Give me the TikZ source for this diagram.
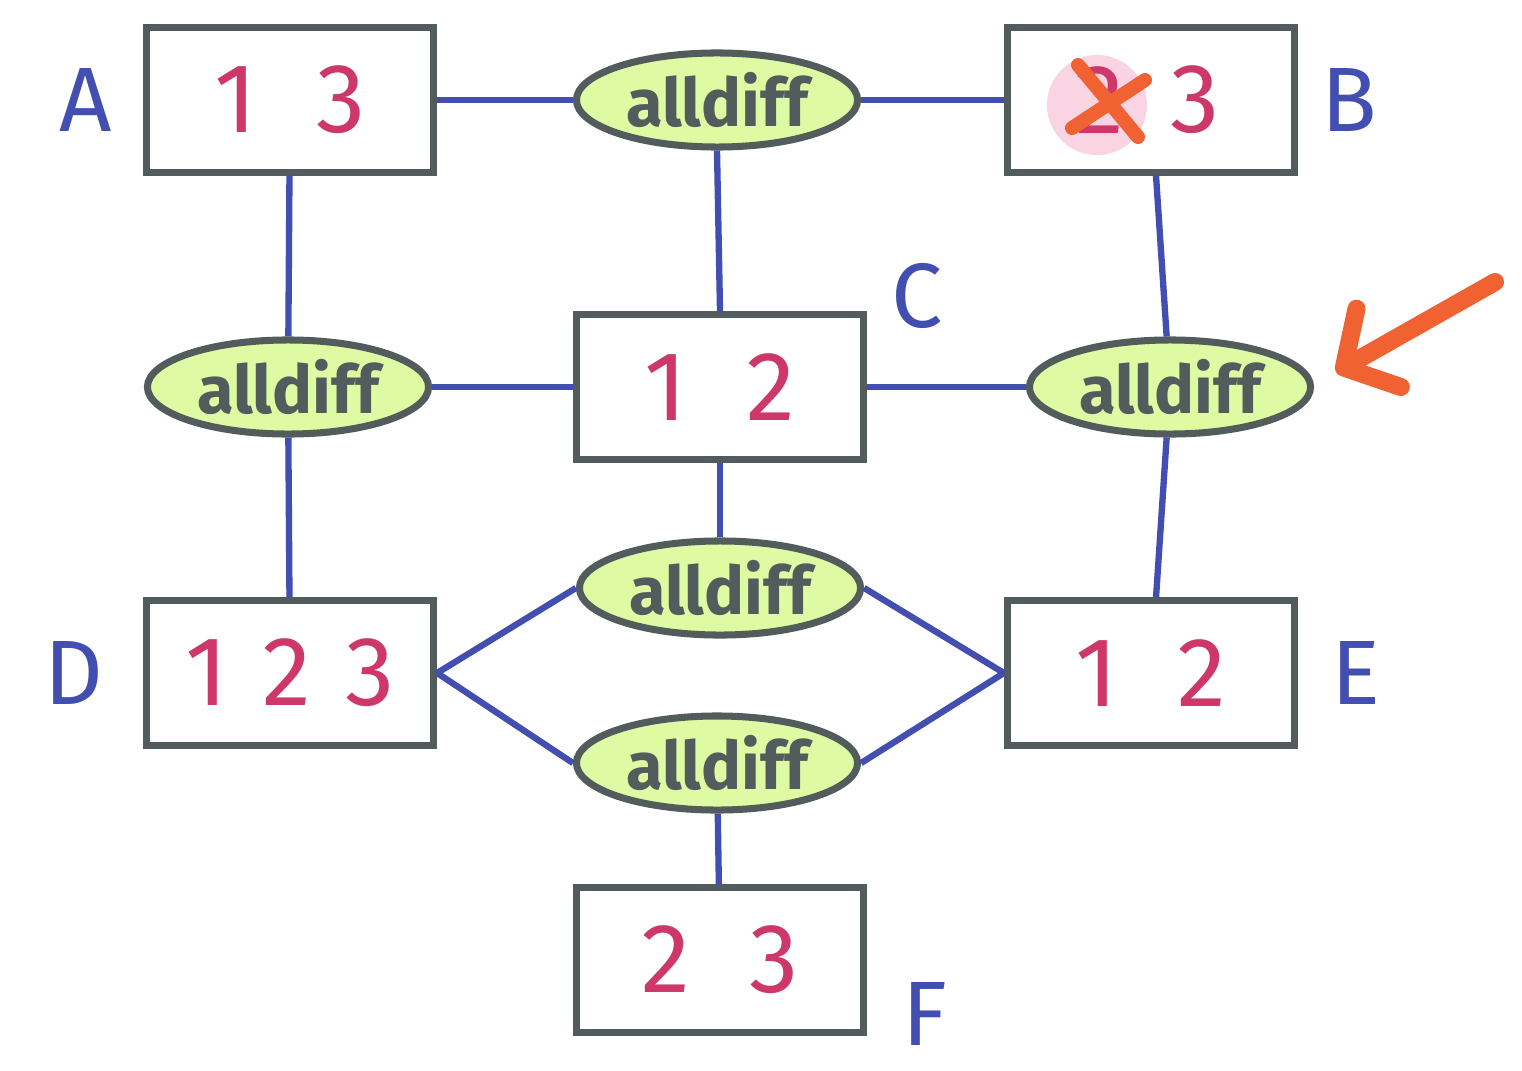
\documentclass[tikz,border=0pt]{standalone}
\usepackage{fontspec}
\setmainfont{Fira Sans}
\usetikzlibrary{arrows.meta,positioning,shapes.geometric,calc}
\definecolor{boxGray}{RGB}{82,92,92}
\definecolor{linkBlue}{RGB}{66,78,176}
\definecolor{valRed}{RGB}{206,56,104}
\definecolor{diffGreen}{RGB}{222,250,162}
\definecolor{markOrange}{RGB}{240,98,50}
\definecolor{crossPink}{RGB}{250,212,226}

\begin{document}
\begin{tikzpicture}[x=0.01cm, y=-0.01cm,
    var/.style={rectangle, draw=boxGray, line width=2pt, fill=white,
                minimum width=2.87cm, minimum height=1.44cm, inner sep=0pt,
                font=\fontsize{28}{30}\selectfont, text=valRed},
    val/.style={font=\fontsize{28}{30}\selectfont, text=valRed, inner sep=0pt},
    cons/.style={ellipse, draw=boxGray, line width=2pt, fill=diffGreen,
                 minimum width=2.81cm, minimum height=0.94cm, inner sep=0pt,
                 font=\fontsize{19}{21}\selectfont\bfseries, text=boxGray},
    tag/.style={font=\fontsize{26}{28}\selectfont, text=linkBlue, inner sep=0pt},
    link/.style={draw=linkBlue, line width=1.8pt},
    strike/.style={draw=markOrange, line width=1.4mm, line cap=round},
    pointer/.style={-{Straight Barb[length=4mm,width=9mm,round]}, draw=markOrange,
                    line width=1.8mm, line cap=round}
  ]
  \useasboundingbox (0,0) rectangle (1522,1070);

  % variables
  \node[var] (a) at ( 290, 100) {1\hspace{0.6em}3};
  \node[var] (b) at (1151, 100) {};
  \node[var] (c) at ( 720, 387) {1\hspace{0.6em}2};
  \node[var] (d) at ( 290, 673) {1\hspace{0.35em}2\hspace{0.35em}3};
  \node[var] (e) at (1151, 673) {1\hspace{0.6em}2};
  \node[var] (f) at ( 720, 960) {2\hspace{0.6em}3};

  % constraints
  \node[cons] (tall) at ( 717, 100) {alldiff};
  \node[cons] (lall) at ( 288, 387) {alldiff};
  \node[cons] (rall) at (1170, 387) {alldiff};
  \node[cons] (mall) at ( 720, 588) {alldiff};
  \node[cons] (ball) at ( 717, 763) {alldiff};

  % names
  \node[tag, left=0.3cm of a]   (na) {A};
  \node[tag, right=0.23cm of b] (nb) {B};
  \node[tag] (nc) at ($(c.north east)+(50,-15)$) {C};
  \node[tag, left=0.39cm of d]  (nd) {D};
  \node[tag, right=0.33cm of e] (ne) {E};
  \node[tag] (nf) at ($(f.south east)+(58,-22)$) {F};

  % edges
  \draw[link] (a.east) -- (tall.west);
  \draw[link] (tall.east) -- (b.west);
  \draw[link] (tall.south) -- (c.north);
  \draw[link] (a) -- (lall);
  \draw[link] (lall) -- (d);
  \draw[link] (lall.east) -- (c.west);
  \draw[link] (c.east) -- (rall.west);
  \draw[link] (b) -- (rall);
  \draw[link] (rall) -- (e);
  \draw[link] (c.south) -- (mall.north);
  \draw[link] (d.east) -- (mall.west);
  \draw[link] (d.east) -- (ball.west);
  \draw[link] (e.west) -- (mall.east);
  \draw[link] (e.west) -- (ball.east);
  \draw[link] (ball) -- (f);

  % domain of B, with 2 removed
  \fill[crossPink] (1097,105) circle (0.5cm);
  \node[val] (b2) at (1100,100) {2};
  \node[val] (b3) at (1195,100) {3};
  \draw[strike] ($(b2)+(-22,-35)$) -- ($(b2)+(38,37)$);
  \draw[strike] ($(b2)+(-28,28)$) -- ($(b2)+(45,-20)$);

  % propagation mark
  \coordinate (tail) at (1495,282);
  \coordinate (tip)  at (1336,372);
  \draw[pointer] (tail) -- (tip);
\end{tikzpicture}
\end{document}
